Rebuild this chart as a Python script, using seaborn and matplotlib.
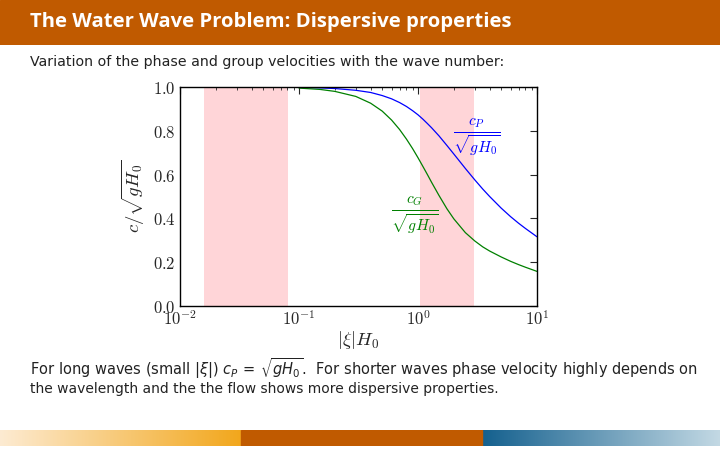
import numpy as np
import pandas as pd
import seaborn as sns
import matplotlib.pyplot as plt
from matplotlib.ticker import FuncFormatter, FixedLocator
from matplotlib.colors import LinearSegmentedColormap

# |xi| H0 values and the velocities
k = [0.1, 0.15, 0.2, 0.3, 0.4, 0.5, 0.6, 0.7, 0.8, 0.9, 1.0, 1.1, 1.2, 1.3,
     1.5, 1.75, 2.0, 2.5, 3.0, 3.5, 4.0, 5.0, 6.0, 7.0, 8.0, 10.0]
c_phase = [0.998, 0.996, 0.993, 0.985, 0.975, 0.961, 0.946, 0.929, 0.911, 0.892,
           0.873, 0.853, 0.833, 0.814, 0.777, 0.733, 0.694, 0.628, 0.576, 0.534,
           0.500, 0.447, 0.408, 0.378, 0.354, 0.316]
c_group = [0.995, 0.989, 0.980, 0.957, 0.926, 0.890, 0.849, 0.806, 0.762, 0.719,
           0.677, 0.637, 0.600, 0.565, 0.505, 0.444, 0.398, 0.335, 0.297, 0.270,
           0.251, 0.224, 0.204, 0.189, 0.177, 0.158]

# shaded ranges of |xi| H0
bands = [(0.0159, 0.081), (1.04, 2.95)]

title = "The Water Wave Problem: Dispersive properties"
subtitle = "Variation of the phase and group velocities with the wave number:"
para1 = r"For long waves (small $|\xi|$) $c_P\,=\,\sqrt{gH_0}$.  For shorter waves phase velocity highly depends on"
para2 = "the wavelength and the the flow shows more dispersive properties."

df = pd.concat([
    pd.DataFrame({"k": k, "c": c_phase, "kind": "phase"}),
    pd.DataFrame({"k": k, "c": c_group, "kind": "group"}),
])

sns.set_style("white")
plt.rcParams["mathtext.fontset"] = "cm"
plt.rcParams["font.family"] = ["DejaVu Sans"]

W, H = 720, 450
fig = plt.figure(figsize=(7.2, 4.5), dpi=100)

# slide header
hdr = fig.add_axes([0, 1 - 45 / H, 1, 45 / H])
hdr.set_axis_off()
hdr.add_patch(plt.Rectangle((0, 0), 1, 1, color="#c05a00", transform=hdr.transAxes))
fig.text(30 / W, 1 - 22 / H, title, color="white", fontsize=14.6, fontweight="bold",
         family="Open Sans", va="center", ha="left")

# bottom colour bar
bar = fig.add_axes([0, 1 - 446 / H, 1, 16 / H])
bar.set_axis_off()
warm = LinearSegmentedColormap.from_list("warm", ["#fdebd2", "#f2a71c"])
cool = LinearSegmentedColormap.from_list("cool", ["#14608e", "#c3d9e4"])
grad = np.linspace(0, 1, 256).reshape(1, -1)
bar.imshow(grad, cmap=warm, aspect="auto", extent=[0, 241, 0, 1])
bar.add_patch(plt.Rectangle((241, 0), 241, 1, color="#c05a00"))
bar.imshow(grad, cmap=cool, aspect="auto", extent=[482, 720, 0, 1])
bar.set_xlim(0, 720)
bar.set_ylim(0, 1)

fig.text(30 / W, 1 - 62 / H, subtitle, fontsize=10.2, color="#222222", va="center")
fig.text(30 / W, 1 - 369 / H, para1, fontsize=10.5, color="#222222", va="center",
         math_fontfamily="dejavusans")
fig.text(30 / W, 1 - 389 / H, para2, fontsize=10, color="#222222", va="center")

# chart
ax = fig.add_axes([180 / W, 1 - 306 / H, 357 / W, 219 / H])
for lo, hi in bands:
    ax.axvspan(lo, hi, color="#ffd5d8", lw=0, zorder=0)
sns.lineplot(data=df, x="k", y="c", hue="kind", palette={"phase": "#0000ff", "group": "#008000"},
             lw=0.9, legend=False, ax=ax)
ax.set_xscale("log")
ax.set_xlim(0.01, 10)
ax.set_ylim(0, 1)
ax.xaxis.set_major_locator(FixedLocator([0.01, 0.1, 1, 10]))
ax.xaxis.set_major_formatter(FuncFormatter(lambda v, p: r"$10^{%d}$" % round(np.log10(v))))
ax.set_yticks([0, 0.2, 0.4, 0.6, 0.8, 1.0])
ax.yaxis.set_major_formatter(FuncFormatter(lambda v, p: r"$%.1f$" % v))
ax.tick_params(which="both", direction="in", top=True, right=True, labelsize=12, pad=3)
ax.tick_params(which="major", length=5, width=0.8)
ax.tick_params(which="minor", length=2.5, width=0.6)
for s in ax.spines.values():
    s.set_color("black")
    s.set_linewidth(1)
ax.set_xlabel(r"$|\xi|H_0$", fontsize=13.5, labelpad=0)
ax.set_ylabel(r"$c/\sqrt{gH_0}$", fontsize=13.5, labelpad=4)

ax.text(3.1, 0.77, r"$\frac{c_P}{\sqrt{gH_0}}$", color="#0000ff", fontsize=16, ha="center", va="center")
ax.text(0.94, 0.41, r"$\frac{c_G}{\sqrt{gH_0}}$", color="#008000", fontsize=16, ha="center", va="center")

fig.savefig("out.png", dpi=100)
